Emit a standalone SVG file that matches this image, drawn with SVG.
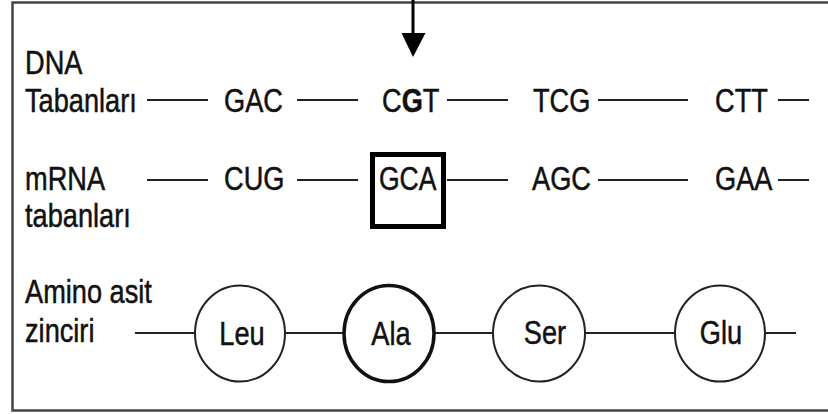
<svg xmlns="http://www.w3.org/2000/svg" width="828" height="414" viewBox="0 0 828 414">
<style>
.t{font-family:"Liberation Sans",Arial,sans-serif;font-size:34px;fill:#111;stroke:#111;stroke-width:0.5}
.ln{stroke:#222;stroke-width:2;fill:none}
.c{fill:#fff;stroke:#222;stroke-width:2}
.ck{fill:#fff;stroke:#111;stroke-width:3.5}
</style>
<rect width="828" height="414" fill="#fff"/>
<path d="M830,2.5 H12.5 V410.5 H830" fill="none" stroke="#444" stroke-width="2.5"/>
<g id="arrow">
<line x1="413" y1="0" x2="413" y2="36" stroke="#000" stroke-width="3"/>
<polygon points="401.5,33 425.5,33 413,57" fill="#000"/>
</g>
<g id="labels">
<text class="t" transform="translate(25,74) scale(0.8,1)">DNA</text>
<text class="t" transform="translate(25,112) scale(0.8,1)">Tabanları</text>
<text class="t" transform="translate(25,190) scale(0.8,1)">mRNA</text>
<text class="t" transform="translate(25,227) scale(0.8,1)">tabanları</text>
<text class="t" transform="translate(25,303) scale(0.8,1)">Amino asit</text>
<text class="t" transform="translate(25,342) scale(0.8,1)">zinciri</text>
</g>
<g id="connectors">
<line class="ln" x1="147" y1="100" x2="208" y2="100"/>
<line class="ln" x1="297" y1="100" x2="358" y2="100"/>
<line class="ln" x1="447" y1="100" x2="508" y2="100"/>
<line class="ln" x1="598" y1="100" x2="688" y2="100"/>
<line class="ln" x1="778" y1="100" x2="809" y2="100"/>
<line class="ln" x1="147" y1="180" x2="208" y2="180"/>
<line class="ln" x1="297" y1="180" x2="358" y2="180"/>
<line class="ln" x1="447" y1="180" x2="508" y2="180"/>
<line class="ln" x1="598" y1="180" x2="688" y2="180"/>
<line class="ln" x1="778" y1="180" x2="809" y2="180"/>
<line class="ln" x1="135" y1="333" x2="195" y2="333"/>
<line class="ln" x1="285" y1="333" x2="344" y2="333"/>
<line class="ln" x1="435" y1="333" x2="493" y2="333"/>
<line class="ln" x1="585" y1="333" x2="675" y2="333"/>
<line class="ln" x1="765" y1="333" x2="796" y2="333"/>
</g>
<g id="dna">
<text class="t" transform="translate(224,112) scale(0.8,1)">GAC</text>
<text class="t" transform="translate(382,112) scale(0.8,1)">C<tspan font-weight="bold">G</tspan>T</text>
<text class="t" transform="translate(533,112) scale(0.8,1)">TCG</text>
<text class="t" transform="translate(715,112) scale(0.8,1)">CTT</text>
</g>
<g id="mrna">
<text class="t" transform="translate(224,190) scale(0.8,1)">CUG</text>
<g id="gca">
<rect x="372.5" y="154.5" width="71" height="72" fill="none" stroke="#000" stroke-width="5"/>
<text class="t" transform="translate(379,190) scale(0.78,1)">GCA</text>
</g>
<text class="t" transform="translate(532,190) scale(0.8,1)">AGC</text>
<text class="t" transform="translate(715,190) scale(0.8,1)">GAA</text>
</g>
<g id="leu"><ellipse class="c" cx="240" cy="333.5" rx="45" ry="48"/><text class="t" text-anchor="middle" transform="translate(242,345) scale(0.8,1)">Leu</text></g>
<g id="ala"><ellipse class="ck" cx="389" cy="333.5" rx="45" ry="48"/><text class="t" text-anchor="middle" transform="translate(391,345) scale(0.8,1)">Ala</text></g>
<g id="ser"><ellipse class="c" cx="539" cy="333.5" rx="46" ry="48"/><text class="t" text-anchor="middle" transform="translate(545,344) scale(0.8,1)">Ser</text></g>
<g id="glu"><ellipse class="c" cx="720" cy="333.5" rx="45" ry="48"/><text class="t" text-anchor="middle" transform="translate(721,344) scale(0.8,1)">Glu</text></g>
</svg>
